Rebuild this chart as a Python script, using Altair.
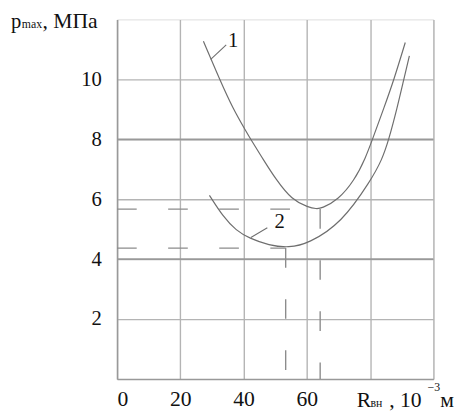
import altair as alt
import pandas as pd

# Curve 1 (upper) and curve 2 (lower)
c1_x = [27.3, 32.5, 36.6, 40.8, 42.3, 46.5, 50.1, 55.3, 60.5, 63.0, 64.6, 69.8, 75.0, 78.6, 80.7, 84.3, 87.5, 91.1]
c1_y = [11.27, 9.98, 9.03, 8.26, 7.99, 7.28, 6.68, 5.97, 5.73, 5.68, 5.69, 5.97, 6.62, 7.39, 7.99, 9.03, 9.98, 11.23]
c2_x = [29.2, 33.5, 37.7, 41.8, 48.0, 54.3, 60.5, 70.9, 80.2, 83.8, 85.9, 88.5, 90.6, 92.4]
c2_y = [6.13, 5.42, 4.95, 4.70, 4.46, 4.38, 4.52, 5.20, 6.62, 7.33, 7.99, 9.03, 9.98, 10.78]

# Dashed reference lines (minimum points)
min_x = [64.2, 53.3]
min_y = [5.67, 4.37]

# Curve labels and leader lines
lab_text = ["1", "2"]
lab_x = [36.7, 51.4]
lab_y = [11.27, 5.25]
lead_x1 = [29.6, 42.3]
lead_y1 = [10.67, 4.72]
lead_x2 = [34.5, 47.5]
lead_y2 = [11.15, 5.05]

x_ticks = [0, 20, 40, 60, 80, 100]
y_ticks = [2, 4, 6, 8, 10]
dark_y = [4, 8]

curves = pd.DataFrame(
    {"x": c1_x + c2_x, "y": c1_y + c2_y,
     "s": ["1"] * len(c1_x) + ["2"] * len(c2_x),
     "o": list(range(len(c1_x))) + list(range(len(c2_x)))}
)
hdash = pd.DataFrame({"x": [0, 0], "x2": min_x, "y": min_y})
vdash = pd.DataFrame({"x": min_x, "y": min_y, "y2": [0, 0]})
labels = pd.DataFrame({"t": lab_text, "x": lab_x, "y": lab_y})
leaders = pd.DataFrame({"x": lead_x1, "y": lead_y1, "x2": lead_x2, "y2": lead_y2})
dark = pd.DataFrame({"y": dark_y})
one = pd.DataFrame({"a": [0]})

FONT = "Liberation Serif"
GRID = "#b4b4b4"

xs = alt.Scale(domain=[0, 100], nice=False)
ys = alt.Scale(domain=[0, 12], nice=False)

xax = alt.Axis(values=x_ticks, grid=True, gridColor=GRID, gridWidth=1.4, ticks=False,
               domainColor="#999999", domainWidth=1.5, labelFont=FONT, labelFontSize=22,
               labelColor="#111111", labelPadding=10, title=None,
               labelExpr="datum.value <= 60 ? datum.label : ''")
yax = alt.Axis(values=y_ticks, grid=True, gridColor=GRID, gridWidth=1.4, ticks=False,
               domainColor="#999999", domainWidth=1.5, labelFont=FONT, labelFontSize=21,
               labelColor="#111111", labelPadding=16, title=None)

base_grid = alt.Chart(dark).mark_rule(color="#999999", strokeWidth=1.8).encode(
    x=alt.value(0), x2=alt.value(322),
    y=alt.Y("y:Q", scale=ys, axis=yax),
)
xaxis_layer = alt.Chart(hdash).mark_rule(opacity=0).encode(
    x=alt.X("x:Q", scale=xs, axis=xax), y=alt.Y("y:Q", scale=ys)
)

h = alt.Chart(hdash).mark_rule(color="#8c8c8c", strokeWidth=1.4, strokeDash=[20, 32]).encode(
    x=alt.X("x:Q", scale=xs), x2="x2:Q", y=alt.Y("y:Q", scale=ys)
)
v = alt.Chart(vdash).mark_rule(color="#8c8c8c", strokeWidth=1.4, strokeDash=[20, 32]).encode(
    x=alt.X("x:Q", scale=xs), y=alt.Y("y:Q", scale=ys), y2="y2:Q"
)
lines = alt.Chart(curves).mark_line(color="#6e6e6e", strokeWidth=1.2, interpolate="basis").encode(
    x=alt.X("x:Q", scale=xs), y=alt.Y("y:Q", scale=ys), detail="s:N", order="o:Q"
)
lead = alt.Chart(leaders).mark_rule(color="#6e6e6e", strokeWidth=1.1).encode(
    x=alt.X("x:Q", scale=xs), y=alt.Y("y:Q", scale=ys), x2="x2:Q", y2="y2:Q"
)
labs = alt.Chart(labels).mark_text(font=FONT, fontSize=21, color="#111111").encode(
    x=alt.X("x:Q", scale=xs), y=alt.Y("y:Q", scale=ys), text="t:N"
)

def txt(s, x, y, size, align="left"):
    return alt.Chart(one).mark_text(text=s, font=FONT, fontSize=size, color="#111111",
                                    align=align, baseline="alphabetic").encode(
        x=alt.value(x), y=alt.value(y))

titles = [
    txt("p", -108, 9, 21),
    txt("max", -97, 9, 12),
    txt(", МПа", -76, 9, 22),
    txt("R", 244, 394, 22),
    txt("вн", 258, 394, 12),
    txt(", 10", 277, 394, 22),
    txt("−3", 316, 378, 12),
    txt("м", 329, 394, 22),
]

chart = alt.layer(base_grid, xaxis_layer, h, v, lines, lead, labs, *titles).properties(
    width=322, height=366,
    autosize=alt.AutoSizeParams(type="none"),
    padding={"left": 111, "top": 8, "right": 24, "bottom": 33},
).configure_view(stroke="#999999", strokeWidth=1.5).configure(background="white")

chart.save("out.html", embed_options={"renderer": "svg", "actions": False})
